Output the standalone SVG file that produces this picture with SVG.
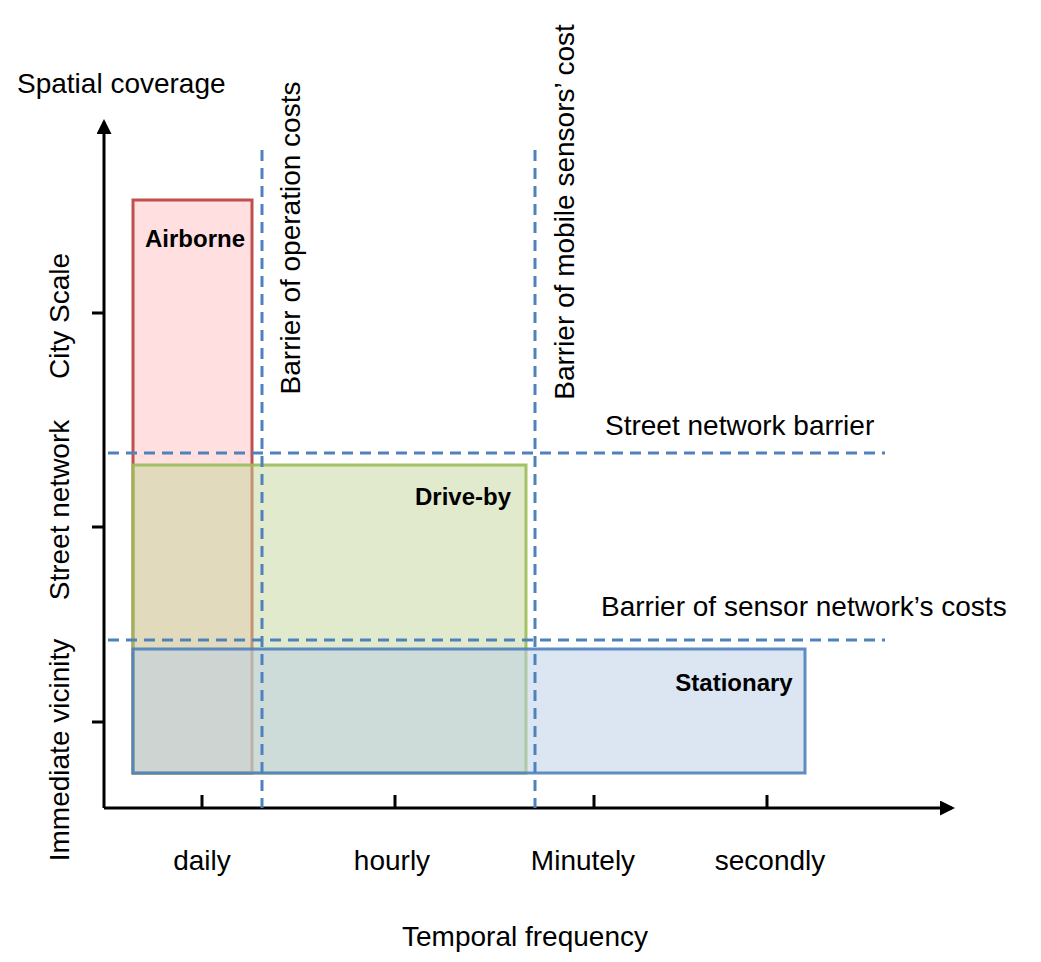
<svg xmlns="http://www.w3.org/2000/svg" width="1041" height="962" viewBox="0 0 1041 962">
<style>
text{font-family:"Liberation Sans",Arial,sans-serif;font-size:28px;fill:#000}
.b{font-weight:bold;font-size:24px}
.ax{stroke:#000;stroke-width:3;fill:none}
.d{stroke:#4f81bd;stroke-width:3;stroke-dasharray:11 7;fill:none}
</style>
<defs><marker id="ah" viewBox="0 0 10 10" refX="8" refY="5" markerWidth="5" markerHeight="5" orient="auto"><path d="M0,0L10,5L0,10z" fill="#000"/></marker></defs>
<rect width="1041" height="962" fill="#fff"/>
<g id="airborne"><rect x="133" y="200" width="119" height="573" fill="#ffc0c0" fill-opacity="0.5" stroke="#c0504d" stroke-width="3"/><text class="b" x="195" y="247" text-anchor="middle">Airborne</text></g>
<g id="driveby"><rect x="133" y="465" width="393" height="308" fill="#c3d69b" fill-opacity="0.5" stroke="#9bbb59" stroke-width="3" stroke-opacity="0.9"/><text class="b" x="463" y="505" text-anchor="middle">Drive-by</text></g>
<g id="stationary"><rect x="133" y="649" width="672" height="124" fill="#b9cde5" fill-opacity="0.5" stroke="#4f81bd" stroke-width="3" stroke-opacity="0.9"/><text class="b" x="734" y="691" text-anchor="middle">Stationary</text></g>
<g id="connectors">
<path class="ax" d="M104,808V122" marker-end="url(#ah)"/>
<path class="ax" d="M104,808H952" marker-end="url(#ah)"/>
<path class="ax" d="M92,313H104M92,527H104M92,722H104M202,795V808M395,795V808M594,795V808M767,795V808" stroke-width="2"/>
<path class="d" d="M262,150V808M535,150V808M108,453H885M108,640H885"/>
</g>
<text x="17" y="93">Spatial coverage</text>
<text transform="translate(69,316) rotate(-90)" text-anchor="middle">City Scale</text>
<text transform="translate(69,510) rotate(-90)" text-anchor="middle">Street network</text>
<text transform="translate(69,750) rotate(-90)" text-anchor="middle">Immediate vicinity</text>
<text transform="translate(300,238) rotate(-90)" text-anchor="middle">Barrier of operation costs</text>
<text transform="translate(574,212) rotate(-90)" text-anchor="middle">Barrier of mobile sensors’ cost</text>
<text x="605" y="435">Street network barrier</text>
<text x="601" y="616">Barrier of sensor network’s costs</text>
<text x="202" y="870" text-anchor="middle">daily</text>
<text x="392" y="870" text-anchor="middle">hourly</text>
<text x="583" y="870" text-anchor="middle">Minutely</text>
<text x="770" y="870" text-anchor="middle">secondly</text>
<text x="525" y="946" text-anchor="middle">Temporal frequency</text>
</svg>
